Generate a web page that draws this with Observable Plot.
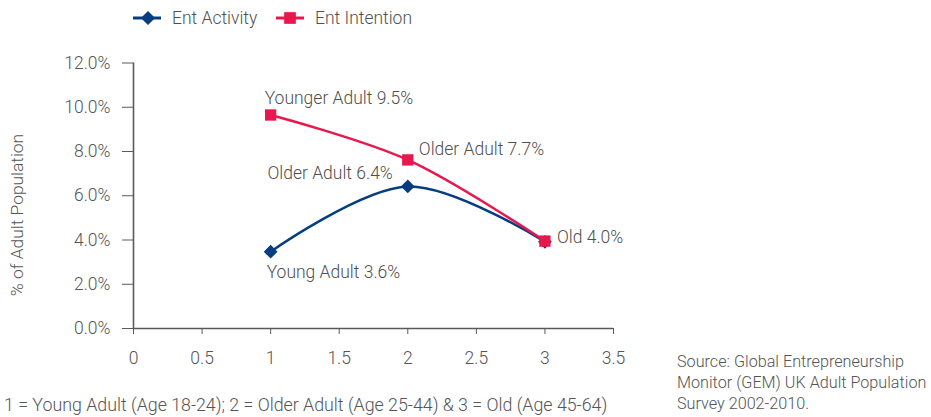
<!DOCTYPE html>
<html><head><meta charset="utf-8">
<script src="https://cdn.jsdelivr.net/npm/d3@7"></script>
<script src="https://cdn.jsdelivr.net/npm/@observablehq/plot@0.6"></script>
<style>
body{margin:0;background:#fff;font-family:Roboto,sans-serif;font-weight:300;color:#555}
#wrap{position:relative;width:931px;height:417px;overflow:hidden}
#chart{position:absolute;left:0;top:0}
.abs{position:absolute;white-space:nowrap;font-size:16px;line-height:21px}
#ytitle{left:17px;top:215px;font-size:17.4px;transform:translate(-50%,-50%) rotate(-90deg);}
#legend{position:absolute;left:0;top:0;width:931px;height:36px}
</style></head><body><div id="wrap">
<div class="abs" id="ytitle"></div>
<div id="chart"></div>
<div id="legend"></div>
<div class="abs" id="caption" style="left:4px;top:394px;font-size:17.8px"></div>
<div class="abs" id="source" style="left:677px;top:351px;font-size:16.2px"></div>
</div>
<script>
const seriesNames = ["Ent Activity", "Ent Intention"];
const seriesColors = ["#063d80", "#e8184f"];
const xValues = [1, 2, 3];
const activity = [3.47, 6.42, 3.92];
const intention = [9.65, 7.62, 3.95];
const activityLabels = ["Young Adult 3.6%", "Older Adult 6.4%", "Old 4.0%"];
const intentionLabels = ["Younger Adult 9.5%", "Older Adult 7.7%", ""];
const xTicks = [0, 0.5, 1, 1.5, 2, 2.5, 3, 3.5];
const yTicks = [0, 2, 4, 6, 8, 10, 12];
const yTitle = "% of Adult Population";
const captionText = "1 = Young Adult (Age 18-24); 2 = Older Adult (Age 25-44) & 3 = Old (Age 45-64)";
const sourceLines = ["Source: Global Entrepreneurship", "Monitor (GEM) UK Adult Population", "Survey 2002-2010."];

const act = xValues.map((x, i) => ({x, y: activity[i], label: activityLabels[i], i}));
const int = xValues.map((x, i) => ({x, y: intention[i], label: intentionLabels[i], i}));

const textStyle = {fill: "#4f4f4f", fontSize: 17.5, fontWeight: 300, fontFamily: "Roboto", lineAnchor: "middle"};
const lbl = (data, i, opts) => Plot.text(data.filter(d => d.i === i), {x: "x", y: "y", text: "label", ...textStyle, ...opts});

const plot = Plot.plot({
  width: 931, height: 380,
  marginLeft: 133, marginRight: 318, marginTop: 62.5, marginBottom: 52,
  style: {fontFamily: "Roboto", fontSize: "17.5px", fontWeight: 300, color: "#555", background: "transparent"},
  x: {domain: [0, 3.5], ticks: xTicks, tickFormat: d => String(d)},
  y: {domain: [0, 12], ticks: yTicks, tickFormat: d => d.toFixed(1) + "%"},
  marks: [
    Plot.axisX({ticks: xTicks, tickSize: 6, tickPadding: 17, stroke: "#5a5a5a", fill: "#555", label: null, tickFormat: d => String(d)}),
    Plot.axisY({ticks: yTicks, tickSize: 11, tickPadding: 12, stroke: "#5a5a5a", fill: "#555", label: null, tickFormat: d => d.toFixed(1) + "%"}),
    Plot.ruleX([0], {stroke: "#5a5a5a", strokeWidth: 1.6}),
    Plot.ruleY([0], {stroke: "#5a5a5a", strokeWidth: 1.6}),
    Plot.line(act, {x: "x", y: "y", stroke: seriesColors[0], strokeWidth: 2.5, curve: "catmull-rom"}),
    Plot.line(int, {x: "x", y: "y", stroke: seriesColors[1], strokeWidth: 2.5, curve: "catmull-rom"}),
    Plot.dot(act, {x: "x", y: "y", symbol: "diamond2", r: 6.2, fill: seriesColors[0], stroke: "none"}),
    Plot.dot(int, {x: "x", y: "y", symbol: "square", r: 6.4, fill: seriesColors[1], stroke: "none"}),
    lbl(int, 0, {textAnchor: "start", dx: -6, dy: -17}),
    lbl(int, 1, {textAnchor: "start", dx: 11, dy: -11}),
    lbl(act, 0, {textAnchor: "start", dx: -4, dy: 21}),
    lbl(act, 1, {textAnchor: "end", dx: -15, dy: -13}),
    lbl(act, 2, {textAnchor: "start", dx: 12, dy: -4})
  ]
});
document.getElementById("chart").appendChild(plot);

// legend
const legend = d3.select("#legend").append("svg").attr("width", 931).attr("height", 36);
const lx = [133, 276];
seriesNames.forEach((name, k) => {
  const g = legend.append("g").attr("transform", `translate(${lx[k]},18)`);
  g.append("line").attr("x1", 0).attr("x2", 28).attr("stroke", seriesColors[k]).attr("stroke-width", 3);
  if (k === 0) g.append("path").attr("d", d3.symbol(d3.symbolDiamond2, 6.4 * 6.4 * Math.PI)()).attr("transform", "translate(15,0)").attr("fill", seriesColors[k]);
  else g.append("path").attr("d", d3.symbol(d3.symbolSquare, 6.6 * 6.6 * Math.PI)()).attr("transform", "translate(14,0)").attr("fill", seriesColors[k]);
  g.append("text").attr("x", 39).attr("dy", "0.33em").attr("fill", "#4f4f4f").attr("font-family", "Roboto").attr("font-weight", 300).attr("font-size", 17.5).text(name);
});

document.getElementById("ytitle").textContent = yTitle;
document.getElementById("caption").textContent = captionText;
document.getElementById("source").innerHTML = sourceLines.map(s => s.replace(/&/g, "&amp;")).join("<br>");
</script></body></html>
